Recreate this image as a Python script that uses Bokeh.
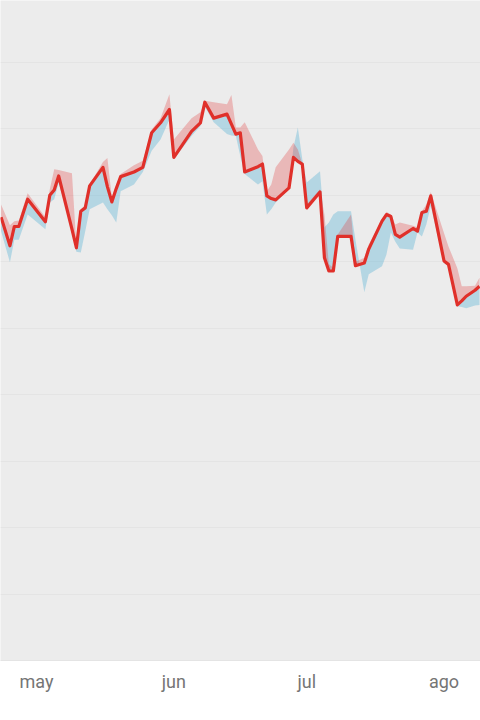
from datetime import datetime, timedelta
from bokeh.plotting import figure
from bokeh.models import Range1d, FixedTicker, CustomJSTickFormatter, ColumnDataSource
from bokeh.embed import file_html
from bokeh.resources import INLINE

# ---- data -------------------------------------------------------------
dates = [
    "2023-04-23", "2023-04-25", "2023-04-26", "2023-04-27", "2023-04-29",
    "2023-05-03", "2023-05-04", "2023-05-05", "2023-05-06", "2023-05-09",
    "2023-05-10", "2023-05-11", "2023-05-12", "2023-05-13", "2023-05-16",
    "2023-05-17", "2023-05-18", "2023-05-19", "2023-05-20", "2023-05-23",
    "2023-05-25", "2023-05-27", "2023-05-29", "2023-05-31", "2023-06-01",
    "2023-06-05", "2023-06-07", "2023-06-08", "2023-06-10", "2023-06-13",
    "2023-06-14", "2023-06-15", "2023-06-16", "2023-06-17", "2023-06-20",
    "2023-06-21", "2023-06-22", "2023-06-23", "2023-06-24", "2023-06-27",
    "2023-06-28", "2023-06-29", "2023-06-30", "2023-07-01", "2023-07-04",
    "2023-07-05", "2023-07-06", "2023-07-07", "2023-07-08", "2023-07-11",
    "2023-07-12", "2023-07-14", "2023-07-15", "2023-07-18", "2023-07-19",
    "2023-07-20", "2023-07-21", "2023-07-22", "2023-07-25", "2023-07-26",
    "2023-07-27", "2023-07-28", "2023-07-29", "2023-08-01", "2023-08-02",
    "2023-08-04", "2023-08-05", "2023-08-06", "2023-08-08", "2023-08-09",
]

main_values = [
    66.7, 62.4, 65.3, 65.3, 69.4, 66.0, 70.0, 70.8, 72.9, 64.9,
    62.1, 67.6, 68.1, 71.4, 74.2, 71.3, 69.0, 71.0, 72.8, 73.5,
    74.2, 79.4, 80.9, 82.9, 75.7, 79.6, 80.9, 84.0, 81.6, 82.2,
    80.7, 79.2, 79.4, 73.5, 74.3, 74.7, 69.9, 69.5, 69.3, 71.1,
    75.7, 75.1, 74.7, 68.1, 70.5, 60.6, 58.6, 58.6, 63.8, 63.8,
    59.4, 59.8, 61.9, 66.1, 67.1, 66.8, 64.1, 63.7, 65.0, 64.6,
    67.4, 67.6, 69.9, 60.1, 59.6, 53.5, 54.1, 54.8, 55.7, 56.3,
]

red_values = [
    68.6, 65.5, 66.1, 66.2, 70.3, 66.7, 70.9, 73.9, 73.8, 73.3,
    62.4, 67.9, 68.5, 71.6, 75.0, 75.6, 69.7, 71.5, 73.2, 74.5,
    75.2, 79.9, 81.6, 85.2, 78.4, 81.6, 82.5, 84.2, 84.0, 83.7,
    85.1, 80.2, 80.2, 81.0, 76.9, 75.9, 70.6, 71.6, 74.2, 76.9,
    77.9, 76.9, 74.7, 68.6, 70.9, 67.1, 59.6, 59.1, 64.1, 67.1,
    60.0, 60.6, 62.6, 66.4, 67.5, 67.1, 65.6, 65.9, 65.4, 65.2,
    67.6, 68.6, 70.5, 64.3, 62.3, 59.0, 56.3, 56.3, 56.4, 57.6,
]

blue_values = [
    64.6, 59.9, 63.3, 63.3, 67.1, 64.9, 68.9, 69.4, 71.9, 64.6,
    61.5, 61.4, 64.6, 67.9, 68.9, 67.9, 67.0, 65.9, 70.6, 71.6,
    73.5, 76.7, 78.4, 81.4, 75.4, 78.9, 80.4, 83.3, 81.0, 79.2,
    79.0, 78.9, 75.9, 73.2, 71.6, 72.1, 67.1, 67.9, 68.9, 70.9,
    77.2, 80.2, 75.4, 71.9, 73.6, 65.2, 65.9, 67.1, 67.6, 67.6,
    63.3, 55.4, 58.1, 59.3, 61.1, 64.4, 63.0, 62.0, 61.8, 64.4,
    63.8, 65.6, 68.4, 59.8, 59.4, 53.3, 53.2, 53.0, 53.4, 53.5,
]

month_ticks = ["2023-05-01", "2023-06-01", "2023-07-01", "2023-08-01"]
month_labels = ["ene", "feb", "mar", "abr", "may", "jun", "jul", "ago",
                "sep", "oct", "nov", "dic"]
y_grid_values = [10, 20, 30, 40, 50, 60, 70, 80, 90]

# ---- build ------------------------------------------------------------
x = [datetime.strptime(d, "%Y-%m-%d") for d in dates]
src = ColumnDataSource(dict(x=x, main=main_values, red=red_values, blue=blue_values))

epoch = datetime(1970, 1, 1)
def ms(dt):
    return (dt - epoch).total_seconds() * 1000.0

ref = datetime(2023, 5, 1)
x_start = ref - timedelta(days=8.13)
x_end = ref + timedelta(days=100.23)

p = figure(width=480, height=720, x_axis_type="datetime",
           output_backend="svg", toolbar_location=None,
           x_range=Range1d(x_start, x_end), y_range=Range1d(0, 99.3),
           min_border_left=0, min_border_right=0, min_border_top=0,
           min_border_bottom=60)

p.background_fill_color = "#ececec"
p.border_fill_color = "white"
p.outline_line_color = None

p.varea(x="x", y1="main", y2="blue", source=src,
        fill_color="#5ab4d6", fill_alpha=0.38)
p.varea(x="x", y1="main", y2="red", source=src,
        fill_color="#e04040", fill_alpha=0.3)
p.line(x="x", y="main", source=src, line_color="#e0302a", line_width=3.2,
       line_join="round")

p.yaxis.visible = False
p.xgrid.visible = False
p.ygrid.ticker = FixedTicker(ticks=y_grid_values)
p.ygrid.grid_line_color = "#e4e4e4"
p.ygrid.grid_line_width = 1

xa = p.xaxis[0]
xa.ticker = FixedTicker(ticks=[ms(datetime.strptime(t, "%Y-%m-%d")) for t in month_ticks])
xa.formatter = CustomJSTickFormatter(args=dict(labels=month_labels),
                                     code="return labels[new Date(tick).getUTCMonth()];")
xa.axis_line_color = "#e4e4e4"
xa.major_tick_line_color = None
xa.minor_tick_line_color = None
xa.major_label_standoff = 4
xa.major_label_text_font = "Roboto"
xa.major_label_text_font_size = "18px"
xa.major_label_text_color = "#757575"

open("out.html", "w").write(file_html(p, INLINE))
